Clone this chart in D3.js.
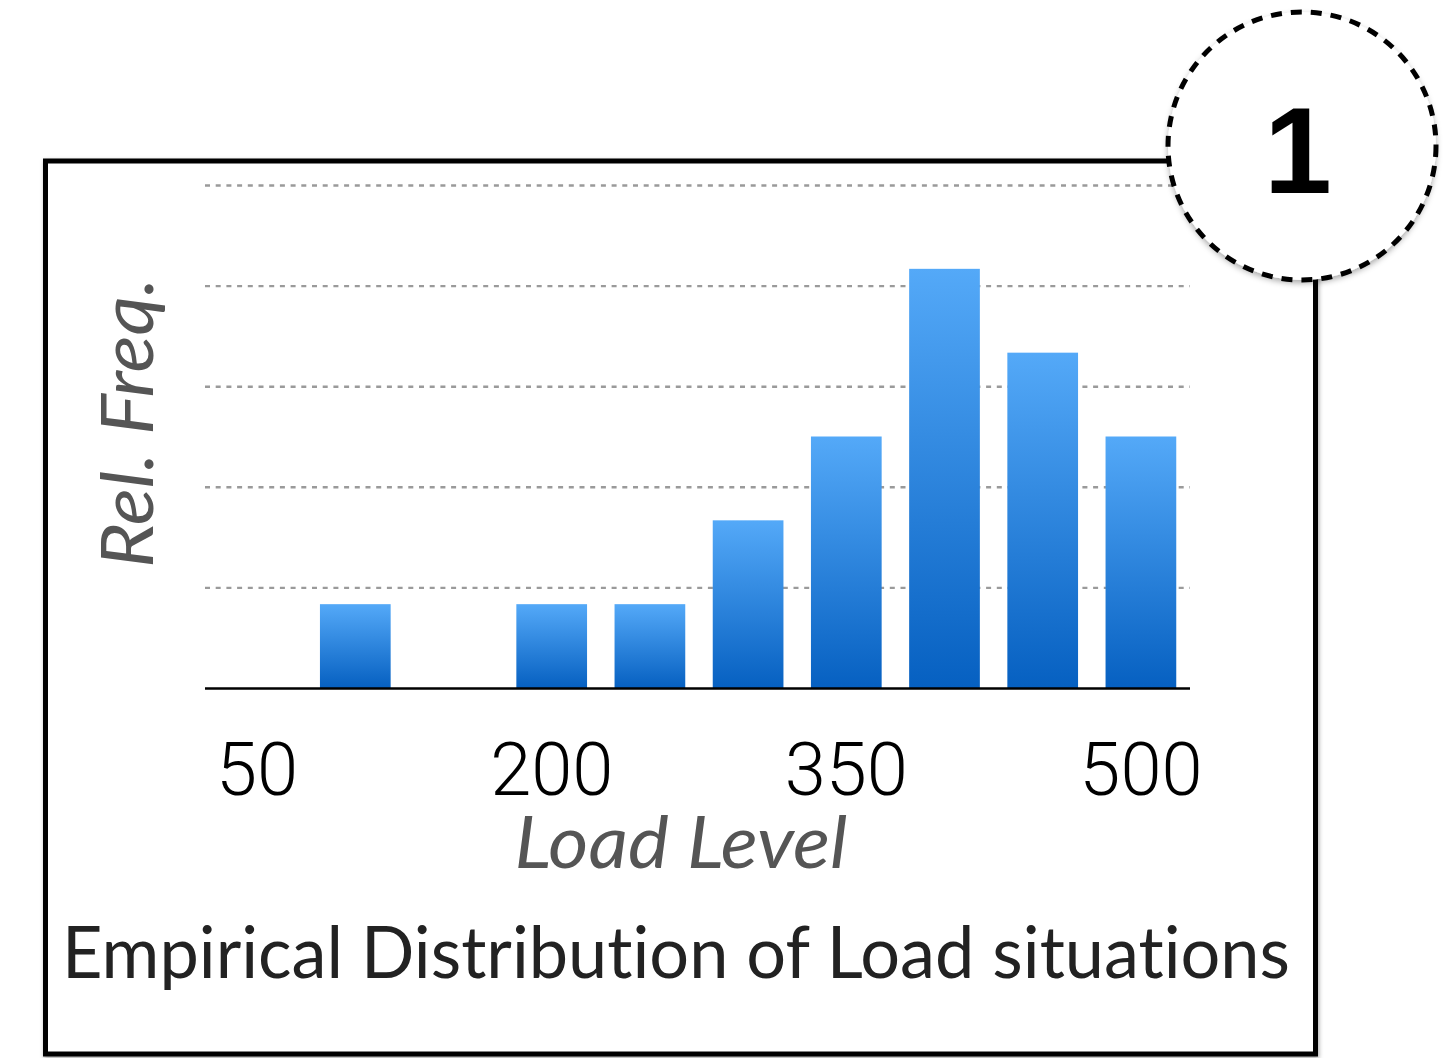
<!DOCTYPE html>
<html>
<head>
<meta charset="utf-8">
<script src="https://cdn.jsdelivr.net/npm/d3@7"></script>
<style>
  html, body { margin: 0; padding: 0; background: #fff; }
  svg { display: block; }
  text { font-variant-ligatures: none; font-feature-settings: "liga" 0, "clig" 0; }
</style>
</head>
<body>
<svg id="chart" width="1446" height="1058"></svg>
<script>
// ---- data ----
const categories = [50, 100, 150, 200, 250, 300, 350, 400, 450, 500];
const values = [0, 0.05, 0, 0.05, 0.05, 0.10, 0.15, 0.25, 0.20, 0.15];
const xTickLabels = [50, 200, 350, 500];
const gridTicks = [0.06, 0.12, 0.18, 0.24, 0.30];
const titleText = "Empirical Distribution of Load situations";
const xTitle = "Load Level";
const yTitle = "Rel. Freq.";
const badgeText = "1";

const svg = d3.select("#chart");
const defs = svg.append("defs");

const grad = defs.append("linearGradient")
  .attr("id", "barGrad").attr("x1", 0).attr("y1", 0).attr("x2", 0).attr("y2", 1);
grad.append("stop").attr("offset", "0%").attr("stop-color", "#54a9f8");
grad.append("stop").attr("offset", "100%").attr("stop-color", "#0660c1");

const sh = defs.append("filter").attr("id", "shadow")
  .attr("x", "-10%").attr("y", "-10%").attr("width", "120%").attr("height", "120%");
sh.append("feDropShadow").attr("dx", 1).attr("dy", 2).attr("stdDeviation", 2)
  .attr("flood-color", "#000").attr("flood-opacity", 0.35);

const sh2 = defs.append("filter").attr("id", "shadow2")
  .attr("x", "-20%").attr("y", "-20%").attr("width", "140%").attr("height", "140%");
sh2.append("feDropShadow").attr("dx", 0).attr("dy", 3).attr("stdDeviation", 3)
  .attr("flood-color", "#000").attr("flood-opacity", 0.35);

// ---- frame ----
svg.append("rect")
  .attr("x", 45.5).attr("y", 161).attr("width", 1270).attr("height", 893)
  .attr("fill", "#fff").attr("stroke", "#000").attr("stroke-width", 5)
  .attr("filter", "url(#shadow)");

// ---- scales ----
const plot = { left: 205, right: 1190, top: 185, bottom: 688 };
const x = d3.scaleBand().domain(categories).range([208, 1190])
  .paddingInner(0.28).paddingOuter(0.14);
const y = d3.scaleLinear().domain([0, 0.30]).range([plot.bottom, plot.top]);

// gridlines
const grid = svg.append("g").attr("transform", `translate(${plot.left},0)`)
  .call(d3.axisLeft(y).tickValues(gridTicks).tickSize(-(plot.right - plot.left)).tickFormat(""));
grid.select(".domain").remove();
grid.selectAll(".tick line")
  .attr("stroke", "#9a9a9a").attr("stroke-width", 2.4).attr("stroke-dasharray", "5,5.7");

// bars
svg.append("g").selectAll("rect")
  .data(categories.map((c, i) => ({ c, v: values[i] })).filter(d => d.v > 0))
  .join("rect")
  .attr("x", d => x(d.c))
  .attr("width", x.bandwidth())
  .attr("y", d => y(d.v))
  .attr("height", d => y(0) - y(d.v))
  .attr("fill", "url(#barGrad)");

// baseline
svg.append("line")
  .attr("x1", plot.left).attr("x2", plot.right)
  .attr("y1", y(0) + 0.5).attr("y2", y(0) + 0.5)
  .attr("stroke", "#000").attr("stroke-width", 2.5);

// x axis labels
const xAxis = svg.append("g").attr("transform", `translate(0,${plot.bottom})`)
  .call(d3.axisBottom(x).tickValues(xTickLabels).tickSize(0));
xAxis.select(".domain").remove();
xAxis.selectAll(".tick text")
  .attr("y", 107).attr("dy", 0)
  .attr("fill", "#000")
  .style("font-family", "Roboto, 'Liberation Sans', sans-serif")
  .style("font-weight", 300)
  .style("font-size", "74px");

// axis titles
svg.append("text")
  .attr("x", 681).attr("y", 868)
  .attr("text-anchor", "middle")
  .attr("textLength", 333).attr("lengthAdjust", "spacingAndGlyphs")
  .attr("fill", "#555")
  .style("font-family", "Lato, 'Open Sans', sans-serif")
  .style("font-style", "italic")
  .style("font-size", "72px")
  .text(xTitle);

svg.append("text")
  .attr("transform", "translate(153,423) rotate(-90)")
  .attr("text-anchor", "middle")
  .attr("textLength", 290).attr("lengthAdjust", "spacingAndGlyphs")
  .attr("fill", "#555")
  .style("font-family", "Lato, 'Open Sans', sans-serif")
  .style("font-style", "italic")
  .style("font-size", "72px")
  .text(yTitle);

// title
svg.append("text")
  .attr("x", 676).attr("y", 978)
  .attr("text-anchor", "middle")
  .attr("textLength", 1228).attr("lengthAdjust", "spacingAndGlyphs")
  .attr("fill", "#222")
  .style("font-family", "Lato, 'Open Sans', sans-serif")
  .style("font-size", "72px")
  .text(titleText);

// badge
svg.append("circle")
  .attr("cx", 1302).attr("cy", 146).attr("r", 134)
  .attr("fill", "#fff").attr("filter", "url(#shadow2)");
svg.append("circle")
  .attr("cx", 1302).attr("cy", 146).attr("r", 134)
  .attr("fill", "none").attr("stroke", "#000").attr("stroke-width", 5)
  .attr("stroke-dasharray", "11,9");
svg.append("text")
  .attr("x", 1298).attr("y", 193)
  .attr("text-anchor", "middle")
  .attr("fill", "#000")
  .style("font-family", "'Liberation Sans', Arial, sans-serif")
  .style("font-weight", "bold")
  .style("font-size", "122px")
  .text(badgeText);
</script>
</body>
</html>
